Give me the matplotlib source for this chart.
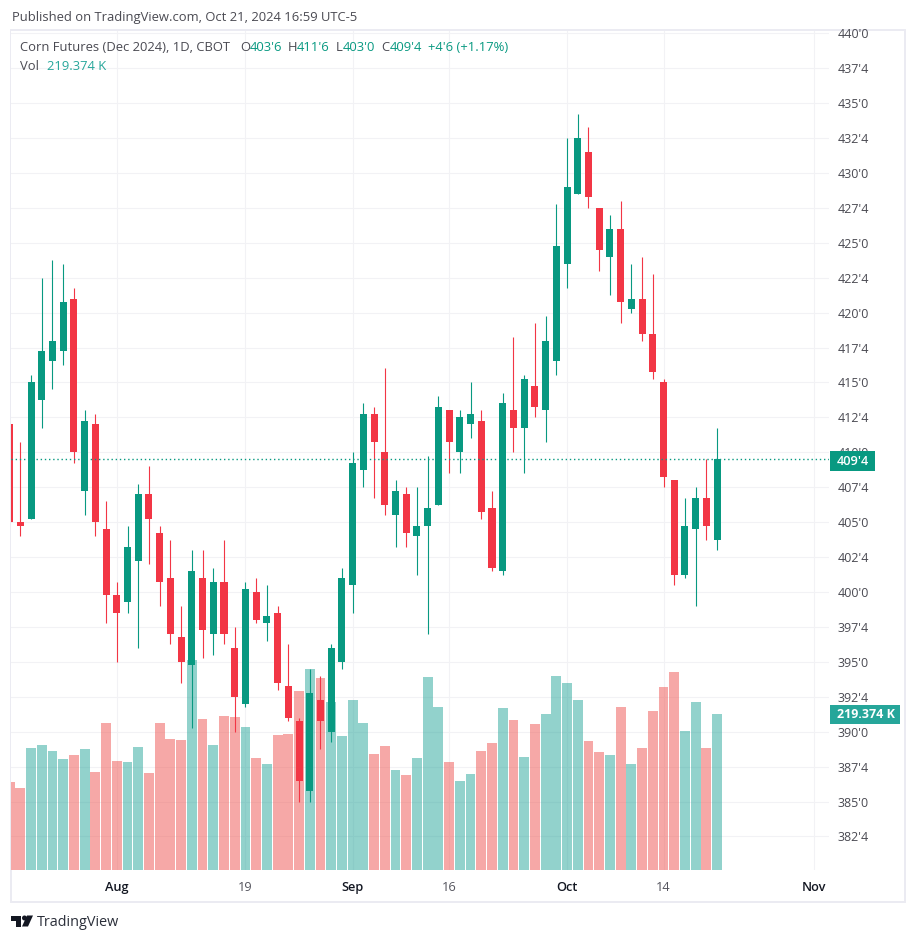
import matplotlib
matplotlib.use("Agg")
import matplotlib.pyplot as plt
from matplotlib.patches import Rectangle, Polygon, Circle

opens = [412,405,405.25,413.75,416.5,417.25,421,407.25,412,404.5,399.75,399.25,402.25,407,404.25,401,396.75,394.75,401,397,400.75,396,392,400,397.75,398.5,393.25,390.75,385.75,392.25,390,395,400.5,408.75,412.75,410,405.5,407,404,404.75,406.25,413,410,412,412.25,406,401.5,413,411.75,414.75,413,416.5,423.5,428.5,431.5,427.5,424,426,420.25,421,418.5,415,408,401.25,404.5,406.75,403.75]
highs = [412,410.75,415.5,422.5,423.75,423.5,421.75,413,412.75,406.5,400.75,404.75,407.75,409,404.75,403.75,399,403,403,401.75,403.75,397.5,400.75,401,400.5,399,396.25,391,394.5,394,396.25,401.75,410,413.5,413.25,416,408,407.5,407.5,409.75,414,413,413,415,413,407.25,414.25,418.25,415.5,419.25,419.75,427.75,432.5,434.25,433.25,427.5,427,428,423.5,424,422.75,415.25,408,406.75,407.5,409.5,411.75]
lows = [405,404,405.25,411.75,414.5,416.25,409.25,405.5,404,397.75,395,398.5,396,402,399,396.25,393.5,390.25,395.25,395.5,396.25,390,391.75,397.75,396.5,393,390.75,385,385,388.75,389.25,394.5,398.5,407.5,406.75,405.5,403.25,403.25,401.25,397,406.25,408.5,408.5,411,405.25,401.5,401.25,410,408.5,412.5,410.75,415.5,421.75,428.5,427.5,423,421.25,419.25,420,418,415.25,407.5,400.5,401,399,403.75,403]
closes = [405,404.75,415,417.25,418,420.75,410,412.25,405,399.75,398.5,403.25,407,405.25,400.75,397,395,401.5,397.25,400.75,397,392.5,400.25,398,398.25,393.5,391,386.5,392.75,390.75,396,401,409.25,412.75,410.75,406.25,407.25,404.25,404.75,406,413.25,410.75,412.5,412.75,405.75,401.75,413.5,411.75,415.25,413.25,418,424.75,429,432.5,428.25,424.5,426,420.75,421,418.5,415.75,408.25,401.25,404.75,406.75,404.75,409.5]
volumes = [123.7,115.3,171.5,175.8,167.3,156.1,161.7,170.1,137.8,206.7,153.3,151.8,172.9,136.4,206.7,184.2,182.8,295.3,212.3,175.8,216.5,215.1,201.1,157.5,149,189.8,191.2,251.7,282.6,270,236.2,188.4,239,206.7,163.1,174.3,140.6,133.6,157.5,271.4,229.2,151.8,125.1,135,167.3,178.6,227.8,210.9,158.9,205.3,219.4,272.8,262.9,239,181.4,165.9,161.7,229.2,149,171.5,223.6,257.3,278.4,195.4,236.2,171.5,219.374]
price_ticks = [382.5,385,387.5,390,392.5,395,397.5,400,402.5,405,407.5,410,412.5,415,417.5,420,422.5,425,427.5,430,432.5,435,437.5,440]
price_labels = ["382'4","385'0","387'4","390'0","392'4","395'0","397'4","400'0","402'4","405'0","407'4","410'0","412'4","415'0","417'4","420'0","422'4","425'0","427'4","430'0","432'4","435'0","437'4","440'0"]
time_ticks = [10,22,32,41,52,61,75]
time_labels = ["Aug","19","Sep","16","Oct","14","Nov"]
last_close = 409.5

GREEN = "#089981"; RED = "#F23645"; TEAL = "#26A69A"; PINK = "#EF5350"
GRID = "#F2F2F5"; FRAME = "#EBEBF2"; TXT = "#4A4A52"; DARK = "#131722"
FONT = "Open Sans"
plt.rcParams["font.family"] = [FONT, "DejaVu Sans"]

W, H = 916, 941
fig = plt.figure(figsize=(W/100, H/100), dpi=100, facecolor="white")
def box(l, t, r, b):
    return [l/W, 1-b/H, (r-l)/W, (b-t)/H]

bg = fig.add_axes([0,0,1,1], zorder=0); bg.set_xlim(0,W); bg.set_ylim(H,0); bg.axis("off")
bg.add_patch(Rectangle((11,30),894,872,fill=False,ec=FRAME,lw=1.4))

L, T, R, B = 11, 31, 829, 870
vol = fig.add_axes(box(L,T,R,B), zorder=1)
ax = fig.add_axes(box(L,T,R,B), zorder=2)
ax.patch.set_alpha(0)
xpx = lambda px: (px-9.6)/10.72
for a in (vol, ax):
    a.set_xlim(xpx(L), xpx(R))
    for s in a.spines.values(): s.set_visible(False)
ax.set_ylim(400-(B-592)/13.97, 400+(592-T)/13.97)
vol.set_ylim(0, (B-T)*1.406)

idx = list(range(len(closes)))
vol.set_yticks([]); vol.set_xticks([])
y0, y1 = ax.get_ylim()
for p in price_ticks:
    f = (p-y0)/(y1-y0)
    vol.plot([0,1],[f,f],transform=vol.transAxes,color=GRID,lw=0.8,zorder=0)
for t_ in time_ticks:
    vol.axvline(t_,color=GRID,lw=0.8,zorder=0)

vcol = [TEAL if c>=o else PINK for o,c in zip(opens,closes)]
vol.bar(idx, volumes, width=0.92, color=vcol, alpha=0.5, lw=0, zorder=2)

ccol = [GREEN if c>=o else RED for o,c in zip(opens,closes)]
ax.vlines(idx, lows, highs, colors=ccol, lw=0.8, zorder=3)
ax.bar(idx, [abs(c-o) for o,c in zip(opens,closes)], bottom=[min(o,c) for o,c in zip(opens,closes)],
       width=0.66, color=ccol, lw=0, zorder=4)
ax.axhline(last_close, color=GREEN, lw=1.0, ls=(0,(1,2)), zorder=5)

ax.yaxis.tick_right()
ax.set_yticks(price_ticks); ax.set_yticklabels(price_labels)
ax.tick_params(axis="y", length=0, pad=6, labelsize=9, labelcolor=TXT)
ax.set_xticks(time_ticks); ax.set_xticklabels(time_labels)
ax.tick_params(axis="x", length=0, pad=8, labelsize=9.2, labelcolor="#55555E")
for lab, txt in zip(ax.get_xticklabels(), time_labels):
    if txt.isalpha():
        lab.set_color(DARK); lab.set_fontweight("semibold")

ov = fig.add_axes([0,0,1,1], zorder=5); ov.set_xlim(0,W); ov.set_ylim(H,0); ov.axis("off"); ov.patch.set_alpha(0)
ov.add_patch(Rectangle((830,451),45,20,fc=GREEN,ec="none"))
ov.text(852.5,461,"409'4",color="white",fontsize=9.2,fontweight="semibold",ha="center",va="center")
ov.add_patch(Rectangle((830,705),70,19,fc=TEAL,ec="none"))
ov.text(866,714.5,"219.374 K",color="white",fontsize=9,fontweight="bold",ha="center",va="center")
def t(x,y,s,c=TXT,**kw):
    ov.text(x,y,s,color=c,fontsize=kw.pop("fontsize",9.4),ha="left",va="center",**kw)
t(12,17,"Published on TradingView.com, Oct 21, 2024 16:59 UTC-5")
t(20,47,"Corn Futures (Dec 2024), 1D, CBOT")
for x,s in [(240,"O"),(288,"H"),(336,"L"),(381,"C")]:
    t(x,47,s)
for x,s in [(250,"403'6"),(297,"411'6"),(343,"403'0"),(390,"409'4"),(428,"+4'6 (+1.17%)")]:
    t(x,47,s,GREEN)
t(20,66,"Vol")
t(47,66,"219.374 K",TEAL)

ov.add_patch(Polygon([(11,915.5),(21,915.5),(21,926.5),(16,926.5),(16,921),(11,921)],fc=DARK,ec="none"))
ov.add_patch(Circle((24.5,918),2.5,fc=DARK,ec="none"))
ov.add_patch(Polygon([(27,915.5),(33,915.5),(28,926.5),(22,926.5)],fc=DARK,ec="none"))
ov.text(37,922,"TradingView",color="#2A2E39",fontsize=10.4,ha="left",va="center")

fig.savefig("out.png", dpi=100)
